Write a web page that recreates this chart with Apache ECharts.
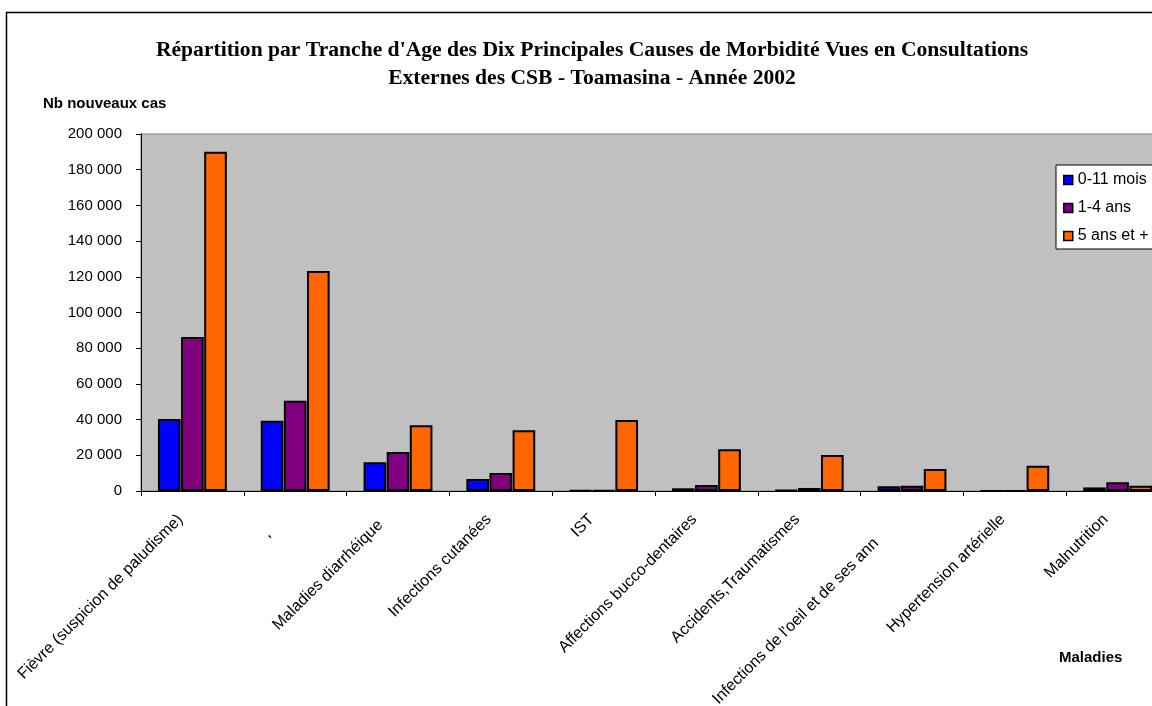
<!DOCTYPE html>
<html lang="fr">
  <head>
    <meta charset="utf-8" />
    <title>Morbidité CSB Toamasina 2002</title>
    <style>
      * {
        margin: 0;
        padding: 0;
      }
      #chart-container {
        position: relative;
        height: 706px;
        width: 1152px;
        overflow: hidden;
        background: #fff;
      }
    </style>
  </head>
  <body>
    <div id="chart-container"></div>
    <script src="https://fastly.jsdelivr.net/npm/echarts@6/dist/echarts.min.js"></script>
    <script>
      const maladies = [
        "Fièvre (suspicion de paludisme)",
        ",",
        "Maladies diarrhéiques",
        "Infections cutanées",
        "IST",
        "Affections bucco-dentaires",
        "Accidents,Traumatismes",
        "Infections de l'oeil et de ses annexes",
        "Hypertension artérielle",
        "Malnutrition",
      ];
      const mois0a11 = [40300, 39400, 16100, 6700, 200, 1500, 500, 2600, 0, 2000];
      const ans1a4 = [86300, 50600, 21800, 10100, 300, 3400, 1700, 3000, 0, 4900];
      const ans5plus = [190000, 123200, 36800, 34000, 39800, 23400, 20200, 12300, 14200, 3000];
      const yTicks = [0, 20000, 40000, 60000, 80000, 100000, 120000, 140000, 160000, 180000, 200000];

      var dom = document.getElementById("chart-container");
      var myChart = echarts.init(dom, null, { renderer: "canvas" });

      function fmt(v) {
        return String(v).replace(/\B(?=(\d{3})+(?!\d))/g, " ");
      }

      // Excel coupe certaines étiquettes : la fin reste masquée mais occupe sa place
      var visibles = {
        "Maladies diarrhéiques": 20,
        "Infections de l'oeil et de ses annexes": 34,
      };
      function etiquette(v) {
        if (v === ",") return "{v|,}{q| }";
        var n = visibles[v];
        if (n) return "{v|" + v.slice(0, n) + "}{h|" + v.slice(n) + "}{p| }";
        return "{v|" + v + "}{p| }";
      }

      var barStyle = function (color) {
        return { color: color, borderColor: "#000", borderWidth: 2 };
      };

      var option = {
        animation: false,
        backgroundColor: "#fff",
        textStyle: { fontFamily: "Liberation Sans, Arial, sans-serif" },
        title: {
          text: "Répartition par Tranche d'Age des Dix Principales Causes de Morbidité Vues en Consultations\nExternes des CSB - Toamasina - Année 2002",
          left: 587,
          top: 31,
          textAlign: "center",
          textStyle: {
            fontFamily: "Liberation Serif, Times New Roman, serif",
            fontSize: 21.6,
            fontWeight: "bold",
            color: "#000",
            lineHeight: 28,
          },
        },
        graphic: [
          {
            type: "rect",
            shape: { x: 6.5, y: 12.5, width: 1200, height: 800 },
            style: { fill: "none", stroke: "#000", lineWidth: 1.5 },
            silent: true,
          },
          {
            type: "text",
            left: 43,
            top: 96,
            style: {
              text: "Nb nouveaux cas",
              font: "bold 15px Liberation Sans, Arial, sans-serif",
              fill: "#000",
            },
          },
          {
            type: "text",
            left: 1059,
            top: 650,
            style: {
              text: "Maladies",
              font: "bold 15px Liberation Sans, Arial, sans-serif",
              fill: "#000",
            },
          },
        ],
        legend: {
          orient: "vertical",
          left: 1056,
          top: 165,
          padding: [6, 10, 4, 7],
          itemGap: 10,
          itemWidth: 9,
          itemHeight: 9,
          backgroundColor: "#fff",
          borderColor: "#000",
          borderWidth: 1,
          borderRadius: 0,
          icon: "rect",
          itemStyle: { borderColor: "#000", borderWidth: 1.5 },
          textStyle: { fontSize: 16, color: "#000", lineHeight: 18 },
        },
        grid: {
          left: 141,
          top: 134,
          right: -17,
          bottom: 215,
          outerBoundsMode: "none",
          containLabel: false,
          show: true,
          backgroundColor: "#c0c0c0",
          borderColor: "#808080",
          borderWidth: 1,
        },
        xAxis: {
          type: "category",
          data: maladies,
          axisLine: { lineStyle: { color: "#000", width: 1 } },
          axisTick: { show: true, length: 5, lineStyle: { color: "#000" } },
          axisLabel: {
            rotate: 45,
            interval: 0,
            margin: 14,
            fontSize: 16,
            color: "#000",
            formatter: etiquette,
            rich: {
              v: { fontSize: 16, color: "#000" },
              h: { fontSize: 16, color: "rgba(0,0,0,0)" },
              p: { fontSize: 16, width: 17 },
              q: { fontSize: 16, width: 38 },
            },
          },
        },
        yAxis: {
          type: "value",
          min: yTicks[0],
          max: yTicks[yTicks.length - 1],
          interval: 20000,
          axisLine: { show: true, lineStyle: { color: "#000", width: 1 } },
          axisTick: { show: true, length: 5, lineStyle: { color: "#000" } },
          splitLine: { show: false },
          axisLabel: {
            fontSize: 15,
            color: "#000",
            margin: 19,
            formatter: fmt,
          },
        },
        series: [
          {
            name: "0-11 mois",
            type: "bar",
            data: mois0a11,
            barGap: "2%",
            barCategoryGap: "33%",
            itemStyle: barStyle("#0000ff"),
          },
          {
            name: "1-4 ans",
            type: "bar",
            data: ans1a4,
            itemStyle: barStyle("#800080"),
          },
          {
            name: "5 ans et +",
            type: "bar",
            data: ans5plus,
            itemStyle: barStyle("#ff6600"),
          },
        ],
      };

      myChart.setOption(option);
      window.addEventListener("resize", myChart.resize);
    </script>
  </body>
</html>
